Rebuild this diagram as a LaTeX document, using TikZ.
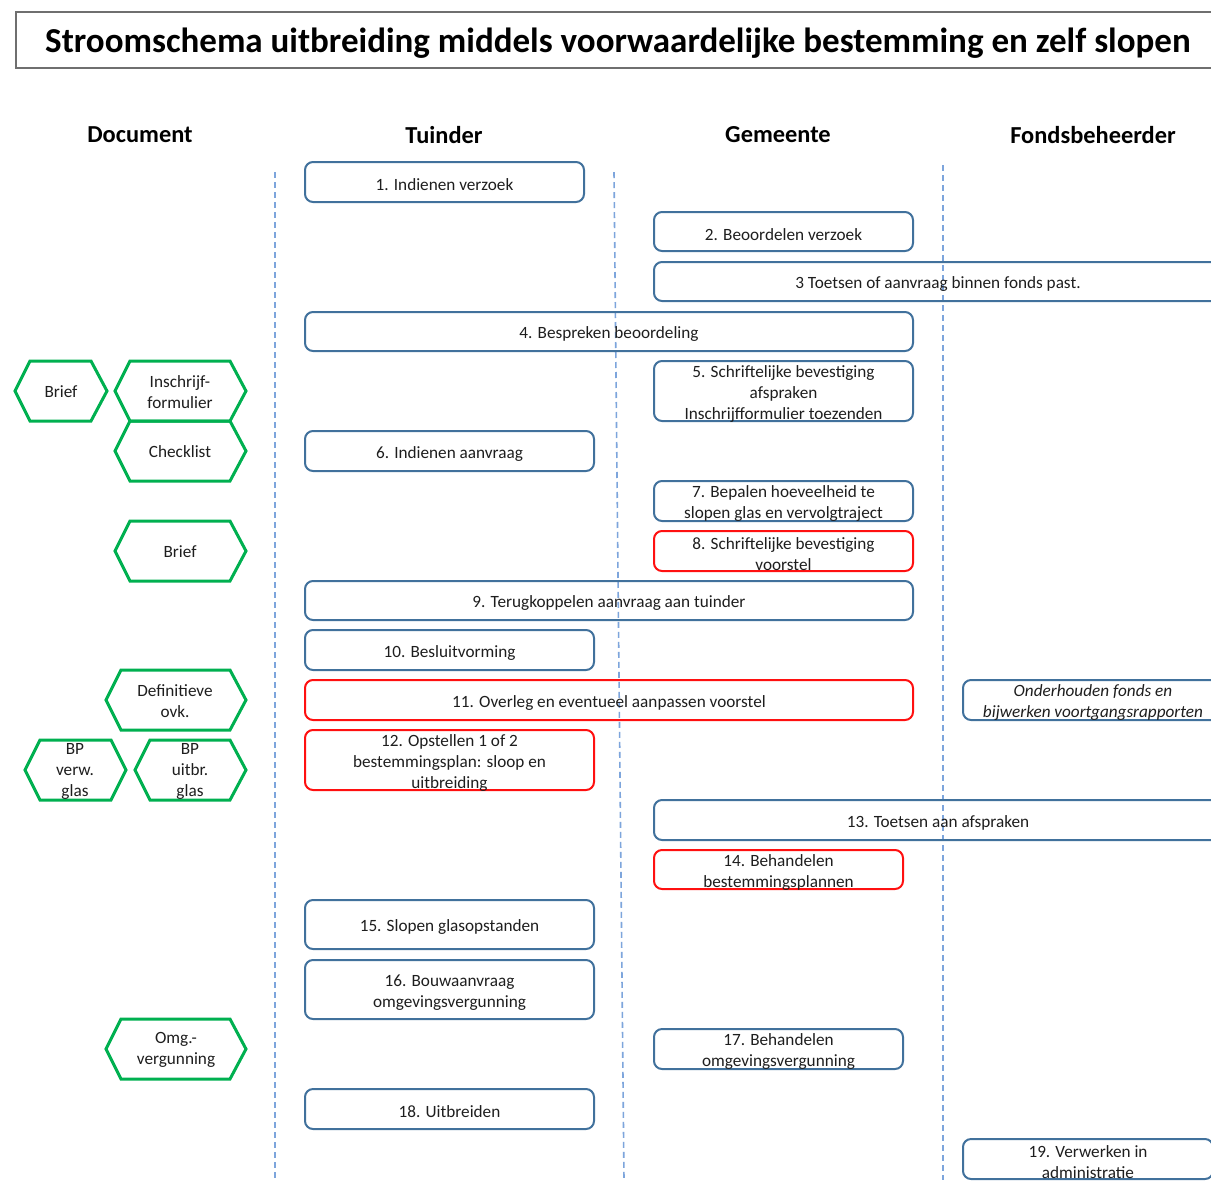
\documentclass[tikz,border=0pt]{standalone}
\usepackage{fontspec}
\setmainfont{Carlito}
\usetikzlibrary{fit}
\definecolor{boxblue}{HTML}{41719C}
\definecolor{boxred}{HTML}{FF1010}
\definecolor{docgreen}{HTML}{00B050}
\definecolor{lanedash}{HTML}{7DA5DC}
\definecolor{titlegray}{HTML}{6F6F6F}
\definecolor{ink}{HTML}{1E1E1E}
\begin{document}
\begin{tikzpicture}[x=0.5pt,y=-0.5pt,
  task/.style={draw=boxblue, line width=1pt, rounded corners=4pt, inner sep=0pt},
  alert/.style={task, draw=boxred},
  tasktext/.style={font=\fontsize{8.6}{10.5}\selectfont, text=ink, align=center, inner sep=0pt, yshift=-1.4pt},
  doctext/.style={tasktext, yshift=0.9pt},
  hexdoc/.style={draw=docgreen, line width=1.5pt, line join=miter},
  lane/.style={draw=lanedash, line width=0.8pt, dash pattern=on 3pt off 2pt},
  header/.style={font=\fontsize{12.2}{14}\selectfont\bfseries, text=black},
]
\clip (0,0) rectangle (1211,1180);
\fill[white] (0,0) rectangle (1211,1180);

% title
\node[draw=titlegray, line width=0.8pt, inner sep=0pt, fit={(16,12) (1230,68)}] (titlebox) {};
\node[font=\fontsize{17.5}{21}\selectfont\bfseries, inner sep=0pt] (title) at (618,43)
  {Stroomschema uitbreiding middels voorwaardelijke bestemming en zelf slopen};

% column headers
\node[header] (h-doc) at (140,135) {Document};
\node[header] (h-tuin) at (444,135) {Tuinder};
\node[header] (h-gem) at (778,135) {Gemeente};
\node[header] (h-fonds) at (1093,135) {Fondsbeheerder};

% swimlane separators
\coordinate (l1t) at (275,172); \coordinate (l1b) at (275,1180);
\coordinate (l2t) at (614,172); \coordinate (l2b) at (624,1180);
\coordinate (l3t) at (943,165); \coordinate (l3b) at (943,1180);
\draw[lane] (l1t) -- (l1b);
\draw[lane] (l2t) -- (l2b);
\draw[lane] (l3t) -- (l3b);

% process steps
\node[task,  fit={(305,162) (584,202)}]  (s1)  {};
\node[task,  fit={(654,212) (913,251)}]  (s2)  {};
\node[task,  fit={(654,262) (1222,301)}] (s3)  {};
\node[task,  fit={(305,312) (913,351)}]  (s4)  {};
\node[task,  fit={(654,361) (913,421)}]  (s5)  {};
\node[task,  fit={(305,431) (594,471)}]  (s6)  {};
\node[task,  fit={(654,481) (913,521)}]  (s7)  {};
\node[alert, fit={(654,531) (913,571)}]  (s8)  {};
\node[task,  fit={(305,581) (913,620)}]  (s9)  {};
\node[task,  fit={(305,630) (594,670)}]  (s10) {};
\node[alert, fit={(305,680) (913,720)}]  (s11) {};
\node[task,  fit={(963,680) (1223,720)}] (sf)  {};
\node[alert, fit={(305,730) (594,790)}]  (s12) {};
\node[task,  fit={(654,800) (1222,840)}] (s13) {};
\node[alert, fit={(654,850) (903,889)}]  (s14) {};
\node[task,  fit={(305,900) (594,949)}]  (s15) {};
\node[task,  fit={(305,960) (594,1019)}] (s16) {};
\node[task,  fit={(654,1029) (903,1069)}] (s17) {};
\node[task,  fit={(305,1089) (594,1129)}] (s18) {};
\node[task,  fit={(963,1139) (1213,1179)}] (s19) {};

\node[tasktext] (t1)  at (s1.center)  {1. Indienen verzoek};
\node[tasktext] (t2)  at (s2.center)  {2. Beoordelen verzoek};
\node[tasktext] (t3)  at (s3.center)  {3 Toetsen of aanvraag binnen fonds past.};
\node[tasktext] (t4)  at (s4.center)  {4. Bespreken beoordeling};
\node[tasktext] (t5)  at (s5.center)  {5. Schriftelijke bevestiging\\afspraken\\Inschrijfformulier toezenden};
\node[tasktext] (t6)  at (s6.center)  {6. Indienen aanvraag};
\node[tasktext] (t7)  at (s7.center)  {7. Bepalen hoeveelheid te\\slopen glas en vervolgtraject};
\node[tasktext] (t8)  at (s8.center)  {8. Schriftelijke bevestiging\\voorstel};
\node[tasktext] (t9)  at (s9.center)  {9. Terugkoppelen aanvraag aan tuinder};
\node[tasktext] (t10) at (s10.center) {10. Besluitvorming};
\node[tasktext] (t11) at (s11.center) {11. Overleg en eventueel aanpassen voorstel};
\node[tasktext, font=\fontsize{8.6}{10.5}\selectfont\itshape] (tf) at (sf.center) {Onderhouden fonds en\\bijwerken voortgangsrapporten};
\node[tasktext] (t12) at (s12.center) {12. Opstellen 1 of 2\\bestemmingsplan: sloop en\\uitbreiding};
\node[tasktext] (t13) at (s13.center) {13. Toetsen aan afspraken};
\node[tasktext] (t14) at (s14.center) {14. Behandelen\\bestemmingsplannen};
\node[tasktext] (t15) at (s15.center) {15. Slopen glasopstanden};
\node[tasktext] (t16) at (s16.center) {16. Bouwaanvraag\\omgevingsvergunning};
\node[tasktext] (t17) at (s17.center) {17. Behandelen\\omgevingsvergunning};
\node[tasktext] (t18) at (s18.center) {18. Uitbreiden};
\node[tasktext] (t19) at (s19.center) {19. Verwerken in\\administratie};

% documents (hexagons)
\draw[hexdoc] (15,391) -- (30,361) -- (91,361) -- (107,391) -- (91,421) -- (30,421) -- cycle;
\node[doctext] (d1) at (61,391) {Brief};
\draw[hexdoc] (115,391) -- (130,361) -- (230,361) -- (246,391) -- (230,421) -- (130,421) -- cycle;
\node[doctext] (d2) at (180,391) {Inschrijf-\\formulier};
\draw[hexdoc] (115,451) -- (130,421) -- (230,421) -- (246,451) -- (230,481) -- (130,481) -- cycle;
\node[doctext] (d3) at (180,451) {Checklist};
\draw[hexdoc] (115,551) -- (130,521) -- (230,521) -- (246,551) -- (230,581) -- (130,581) -- cycle;
\node[doctext] (d4) at (180,551) {Brief};
\draw[hexdoc] (106,700) -- (121,670) -- (230,670) -- (246,700) -- (230,730) -- (121,730) -- cycle;
\node[doctext] (d5) at (175,700) {Definitieve\\ovk.};
\draw[hexdoc] (25,770) -- (40,740) -- (111,740) -- (126,770) -- (111,800) -- (40,800) -- cycle;
\node[doctext] (d6) at (75,770) {BP\\verw.\\glas};
\draw[hexdoc] (135,770) -- (150,740) -- (230,740) -- (246,770) -- (230,800) -- (150,800) -- cycle;
\node[doctext] (d7) at (190,770) {BP\\uitbr.\\glas};
\draw[hexdoc] (106,1049) -- (121,1019) -- (230,1019) -- (246,1049) -- (230,1079) -- (121,1079) -- cycle;
\node[doctext] (d8) at (176,1049) {Omg.-\\vergunning};
\end{tikzpicture}
\end{document}
